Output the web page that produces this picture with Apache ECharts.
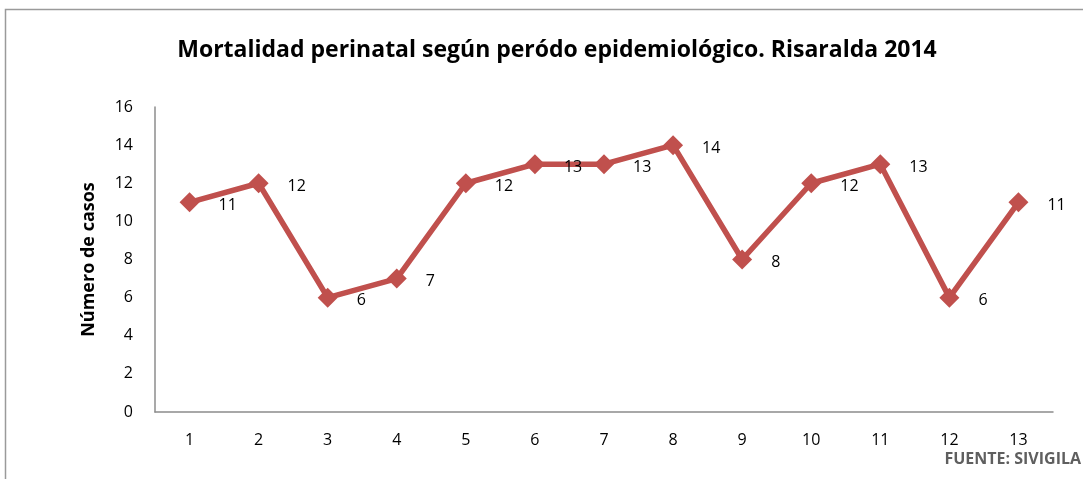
<!DOCTYPE html>
<html>
<head>
<meta charset="utf-8">
<script src="https://cdn.jsdelivr.net/npm/echarts@6/dist/echarts.min.js"></script>
<style>
  html, body { margin: 0; padding: 0; background: #fff; }
  #chart { width: 1083px; height: 479px; }
</style>
</head>
<body>
<div id="chart"></div>
<script>
// periodos epidemiologicos y casos
const periodos = ['1', '2', '3', '4', '5', '6', '7', '8', '9', '10', '11', '12', '13'];
const casos = [11, 12, 6, 7, 12, 13, 13, 14, 8, 12, 13, 6, 11];
const yTicks = { min: 0, max: 16, interval: 2 };

const fontFam = '"Open Sans", "Noto Sans", sans-serif';

const chart = echarts.init(document.getElementById('chart'));

chart.setOption({
  animation: false,
  backgroundColor: '#fff',
  title: {
    text: 'Mortalidad perinatal según peródo epidemiológico. Risaralda 2014',
    left: 552,
    textAlign: 'center',
    top: 34,
    textStyle: { fontFamily: fontFam, fontSize: 23, fontWeight: 'bold', color: '#000' }
  },
  graphic: [
    {
      type: 'rect',
      shape: { x: 5.5, y: 9.5, width: 1200, height: 600 },
      style: { fill: 'none', stroke: '#9a9a9a', lineWidth: 1.5 },
      silent: true
    },
    {
      type: 'text',
      right: 2,
      top: 451,
      style: {
        text: 'FUENTE: SIVIGILA',
        fill: '#5f5f5f',
        font: 'bold 16px ' + fontFam
      }
    }
  ],
  grid: { left: 155, right: 30, top: 107, bottom: 67 },
  xAxis: {
    type: 'category',
    data: periodos,
    boundaryGap: true,
    axisLine: { lineStyle: { color: '#8c8c8c', width: 1.5 } },
    axisTick: { show: false },
    axisLabel: { color: '#000', fontFamily: fontFam, fontSize: 16, margin: 20 }
  },
  yAxis: {
    type: 'value',
    min: yTicks.min,
    max: yTicks.max,
    interval: yTicks.interval,
    name: 'Número de casos',
    nameLocation: 'middle',
    nameGap: 57,
    nameTextStyle: { color: '#000', fontFamily: fontFam, fontSize: 18, fontWeight: 'bold' },
    axisLine: { show: true, lineStyle: { color: '#8c8c8c', width: 1.5 } },
    axisTick: { show: false },
    splitLine: { show: false },
    axisLabel: { color: '#000', fontFamily: fontFam, fontSize: 16, margin: 22 }
  },
  series: [
    {
      type: 'line',
      data: casos,
      symbol: 'diamond',
      symbolSize: 20,
      lineStyle: { color: '#C0504D', width: 5.5 },
      itemStyle: { color: '#C0504D' },
      label: {
        show: true,
        position: 'right',
        distance: 19,
        offset: [0, 3],
        color: '#000',
        fontFamily: fontFam,
        fontSize: 16
      }
    }
  ]
});
</script>
</body>
</html>
